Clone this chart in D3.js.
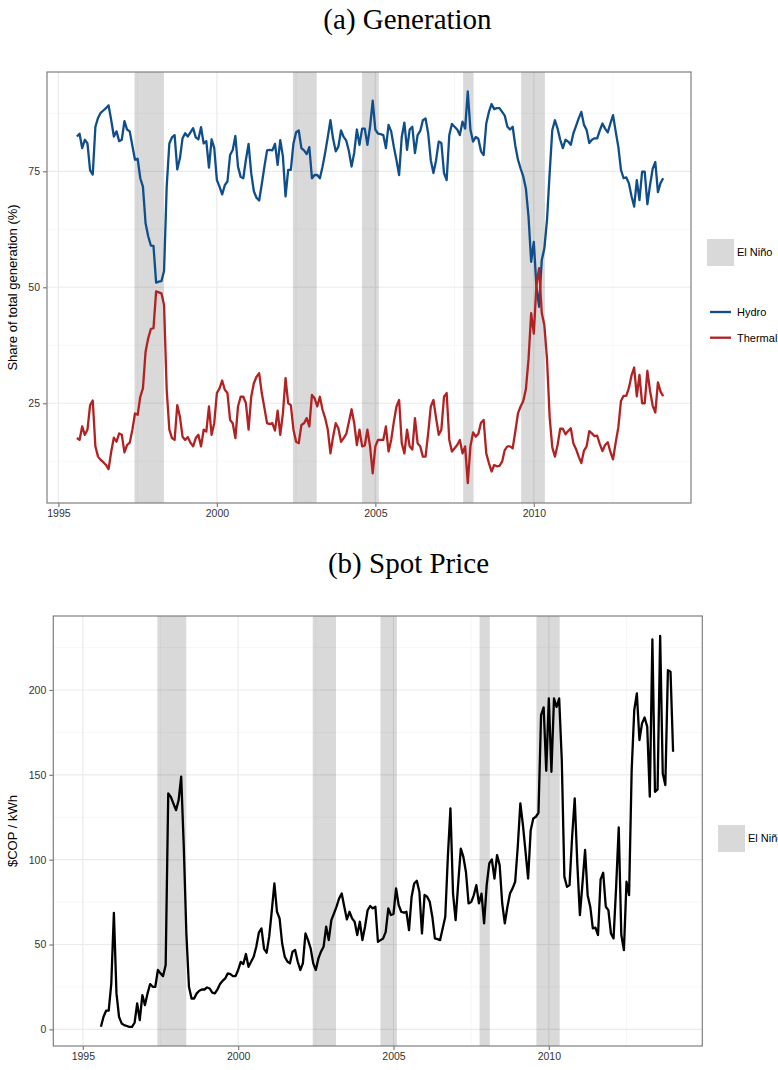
<!DOCTYPE html>
<html>
<head>
<meta charset="utf-8">
<script src="https://cdn.jsdelivr.net/npm/d3@7"></script>
<style>
  body { margin: 0; background: #fff; }
  text { font-family: "Liberation Sans", Arial, sans-serif; }
</style>
</head>
<body>
<div id="chart"></div>
<script>
const w = 778;
const h = 1070;

// monthly series, first value = August 1995
const firstMonth = 1995 + 7 / 12;

// El Niño episodes (decimal years)
const elNinoStart = [1997.40, 2002.40, 2004.58, 2007.77, 2009.60];
const elNinoEnd   = [1998.33, 2003.15, 2005.11, 2008.10, 2010.35];

// share of total generation (%)
const hydro = [
  82.5, 83.1, 80, 81.8, 81, 75.2, 74.3, 84.6, 86.5, 87.6, 88.1, 88.6, 89.2, 86, 82.5, 83.6,
  81.5, 81.8, 85.8, 84, 83.6, 80.5, 77.5, 77.7, 73.5, 71.7, 63.8, 61, 59, 58.9, 51, 51.2,
  51.3, 53.5, 71.7, 81, 82.3, 82.8, 75.4, 77.8, 82.1, 83.2, 82.5, 83.4, 84.3, 82.3, 81.9, 84.5,
  81, 81.5, 75.8, 81.9, 80, 73.1, 71.7, 70, 72, 72.8, 78.5, 79.6, 82.6, 76, 73.8, 73.5,
  77.5, 80.9, 74.6, 70.7, 69.3, 68.7, 72.2, 76, 79.5, 79.6, 79.5, 80.9, 76.4, 81.7, 78.2, 69.6,
  75.3, 75.3, 81, 83.4, 83.8, 80, 79.5, 78.7, 80.2, 73.5, 74.2, 74.2, 73.5, 76, 79, 82.4,
  86, 82, 79.3, 80.3, 83.8, 82.4, 81.6, 79.3, 76, 79, 84, 80.7, 84.2, 84.2, 80.7, 84.6,
  90.2, 84, 83.1, 83, 82.8, 80, 85, 83.6, 80.3, 77.4, 74.2, 82.4, 85.5, 79.6, 84, 84.6,
  78.9, 82.8, 83.7, 86, 86.4, 83.2, 77.4, 74.6, 77.4, 81.4, 81.1, 74.6, 73.1, 82.8, 85.2, 84.6,
  84, 82.8, 85.7, 84.2, 92.2, 84, 81.4, 82.4, 82, 79.3, 78.5, 85.3, 87.8, 89.5, 88.4, 88.6,
  88.6, 87.8, 87, 84.6, 84, 84.6, 80.5, 77.5, 75.6, 73.9, 71.3, 65.2, 55.5, 59.8, 50.1, 45.8,
  55.8, 58.4, 64.5, 74.6, 83.9, 86, 84.2, 81.8, 80, 81.8, 81.4, 80.7, 83.2, 84.8, 86.4, 87.8,
  85, 83.9, 81.1, 81.8, 82.1, 82.1, 83.8, 85.3, 84.2, 83.4, 85.3, 87.1, 83.6, 80.3, 75.3, 73.5,
  73.7, 72.4, 69.6, 67.4, 73.1, 68.8, 74.9, 74.9, 67.9, 72, 75.5, 77, 70.5, 72.5, 73.5
];
const thermal = [
  17.5, 17.1, 20, 18.2, 19.3, 24.6, 25.6, 15.7, 13.5, 12.8, 12.3, 11.7, 10.8, 14.6, 17.6, 16.7,
  18.5, 18.2, 14.4, 16, 16.5, 19.3, 22.8, 22.5, 26.4, 28.2, 36.1, 39, 41, 41.2, 49.1, 48.9,
  48.7, 46.2, 27.9, 19.3, 17.5, 17.1, 24.6, 22.1, 17.8, 17.1, 17.7, 16.5, 15.7, 17.5, 18.2, 15.7,
  19.3, 18.9, 24.3, 18.2, 20.7, 27.2, 28.2, 29.9, 27.9, 27.2, 21.4, 20.7, 17.5, 24.3, 26.4, 26.4,
  25, 19.3, 26.4, 29.3, 30.7, 31.5, 27.2, 24, 20.7, 20.5, 20.7, 19.1, 23.4, 18.2, 22.8, 30.4,
  25, 24.6, 19.3, 16.7, 16.4, 20.3, 20.7, 21.8, 20, 26.8, 26.1, 24.3, 26.4, 23.6, 21.8, 19.3,
  14.2, 17.8, 20.7, 19.6, 16.7, 17.5, 18.4, 21, 23.7, 20.7, 16, 19.3, 15.7, 15.9, 19.3, 15.7,
  9.9, 15.7, 17.1, 17.1, 17.1, 20, 14.6, 17.1, 21, 24.3, 25.7, 16.4, 14.2, 19.3, 15.7, 15,
  21.8, 16.4, 15.7, 13.5, 13.5, 18.5, 24.3, 25.7, 21.8, 18.2, 19.3, 26.4, 27.2, 17.1, 14.6, 15.3,
  16, 17.1, 14.2, 15.7, 7.8, 15.7, 18.7, 17.8, 18.4, 20.8, 21.4, 14.2, 12.1, 10.3, 11.7, 11.4,
  11.5, 12.4, 14.9, 15.7, 15.7, 15.3, 18.9, 22.8, 24.3, 25.5, 28, 34.5, 44.4, 40, 50.5, 54.1,
  44.5, 41.8, 34.5, 22, 15.5, 13.5, 16, 19.5, 19.5, 18.3, 19, 19.6, 16.3, 15.1, 13.5, 12.1,
  14.8, 15.7, 19, 18.5, 17.9, 18, 16.2, 14.7, 16, 16.6, 14.5, 12.9, 16.5, 19.8, 25.5, 26.6,
  26.6, 28.3, 31, 32.7, 26.5, 31.1, 25, 25, 32, 27.7, 24.5, 23, 29.5, 27.5, 26.5
];

// spot price ($COP / kWh)
const price = [
  1.5, 7.4, 11, 11, 27, 68.7, 21.2, 7.4, 3.5, 2.5, 2, 1.5, 1.5, 3.9, 15.3, 5.5,
  20.2, 14.3, 21.2, 26.7, 25.1, 25.1, 35, 33, 31.4, 37.9, 139, 137, 133, 129.2, 135, 148.9,
  107.6, 56.5, 25.1, 18.2, 18.2, 21.2, 22.8, 23.5, 23.5, 24.7, 24.1, 21.6, 21.2, 23.5, 26.7, 28.6,
  30, 33, 32.6, 31.4, 31.4, 35, 39.8, 38.5, 44.4, 36.9, 39.8, 42.8, 48.7, 57, 59.5, 47.5,
  45.2, 54.8, 70, 86, 69.3, 65.4, 50.6, 42.8, 40, 38.9, 45.8, 46.8, 40, 35, 38.9, 56.5,
  52.6, 47.7, 38.9, 35, 41.8, 45.8, 48.7, 60.5, 52.6, 64.4, 68.3, 72.3, 77.2, 80.1, 72.3, 64.8,
  69.3, 65.4, 63.4, 55.6, 63.4, 52.6, 60.5, 70.2, 72.7, 71.3, 72.3, 51.6, 52.6, 53.6, 57.5, 71.3,
  67.4, 68, 83.1, 73.3, 69.3, 68.8, 69.3, 58.5, 78.2, 86, 87.6, 81.1, 56.5, 79.2, 78.2, 75.2,
  66.4, 53.6, 53.2, 52.6, 59.5, 66.4, 101.8, 130.2, 80, 64.4, 86, 106.5, 101.6, 92.6, 74.2, 75,
  79, 85, 74.2, 80, 62.5, 85, 97.8, 100.1, 88.9, 102.7, 96.8, 74.2, 62.5, 72.2, 80.1, 83.1,
  87, 107.6, 133.2, 120.4, 104.7, 88.9, 117.4, 124.3, 125.3, 127.6, 185.2, 189.7, 152.4, 195, 151.8, 195,
  190.1, 195, 158.7, 90, 84, 85, 113.5, 136.1, 97.8, 67.3, 86, 105.7, 79.1, 72.3, 59.5, 59.9,
  55.6, 88.4, 92.3, 72.3, 70.3, 56.5, 53.6, 84, 119, 55.6, 46.7, 87, 79.1, 152.8, 188.2, 198,
  170.5, 180.3, 183.8, 178.4, 137.1, 229.8, 140, 141.4, 231.8, 150.8, 144, 211.7, 210.8, 163.6
];

const yearTicks = [1995, 2000, 2005, 2010];
const yearMinor = [1997.5, 2002.5, 2007.5, 2012.5];
const genTicks = [25, 50, 75];
const genMinor = [12.5, 37.5, 62.5, 87.5];
const priceTicks = [0, 50, 100, 150, 200];
const priceMinor = [25, 75, 125, 175, 225];

const seriesColor = { Hydro: '#104E8B', Thermal: '#B22222' };

const svg = d3.select('#chart')
  .append('svg')
  .attr('width', w)
  .attr('height', h);

const toPoints = arr => arr.map((v, i) => ({ t: firstMonth + i / 12, v: v }));
const elNino = elNinoStart.map((s, i) => ({ s: s, e: elNinoEnd[i] }));

function drawPanel(p) {
  const x = d3.scaleLinear().domain(p.xDomain).range([p.left, p.right]);
  const y = d3.scaleLinear().domain(p.yDomain).range([p.bottom, p.top]);
  const g = svg.append('g');

  // title
  svg.append('text')
    .attr('x', p.titleX)
    .attr('y', p.titleY)
    .attr('text-anchor', 'middle')
    .style('font-family', '"Liberation Serif", "Times New Roman", serif')
    .style('font-size', '29px')
    .style('fill', '#000')
    .text(p.title);

  // grid
  g.selectAll('.xminor').data(yearMinor).enter().append('line')
    .attr('x1', d => x(d)).attr('x2', d => x(d))
    .attr('y1', p.top).attr('y2', p.bottom)
    .style('stroke', '#f7f7f7').style('stroke-width', 1);
  g.selectAll('.yminor').data(p.yMinor).enter().append('line')
    .attr('x1', p.left).attr('x2', p.right)
    .attr('y1', d => y(d)).attr('y2', d => y(d))
    .style('stroke', '#f7f7f7').style('stroke-width', 1);
  g.selectAll('.xmajor').data(yearTicks).enter().append('line')
    .attr('x1', d => x(d)).attr('x2', d => x(d))
    .attr('y1', p.top).attr('y2', p.bottom)
    .style('stroke', '#ebebeb').style('stroke-width', 1.2);
  g.selectAll('.ymajor').data(p.yTicks).enter().append('line')
    .attr('x1', p.left).attr('x2', p.right)
    .attr('y1', d => y(d)).attr('y2', d => y(d))
    .style('stroke', '#ebebeb').style('stroke-width', 1.2);

  // El Niño shading
  g.selectAll('.nino').data(elNino).enter().append('rect')
    .attr('x', d => x(d.s))
    .attr('width', d => x(d.e) - x(d.s))
    .attr('y', p.top)
    .attr('height', p.bottom - p.top)
    .style('fill', '#000')
    .style('fill-opacity', 0.15);

  // lines
  const line = d3.line().x(d => x(d.t)).y(d => y(d.v));
  p.series.forEach(s => {
    g.append('path')
      .datum(toPoints(s.values))
      .attr('d', line)
      .style('fill', 'none')
      .style('stroke', s.color)
      .style('stroke-width', 2.3)
      .style('stroke-linejoin', 'round');
  });

  // border
  g.append('rect')
    .attr('x', p.left).attr('y', p.top)
    .attr('width', p.right - p.left).attr('height', p.bottom - p.top)
    .style('fill', 'none').style('stroke', '#7f7f7f').style('stroke-width', 1.2);

  // axes
  const xAxis = svg.append('g')
    .attr('transform', 'translate(0,' + p.bottom + ')')
    .call(d3.axisBottom(x).tickValues(yearTicks).tickFormat(d3.format('d')).tickSize(4).tickPadding(3));
  const yAxis = svg.append('g')
    .attr('transform', 'translate(' + p.left + ',0)')
    .call(d3.axisLeft(y).tickValues(p.yTicks).tickSize(4).tickPadding(3));
  [xAxis, yAxis].forEach(a => {
    a.select('.domain').remove();
    a.selectAll('line').style('stroke', '#7f7f7f').style('stroke-width', 1.2);
    a.selectAll('text')
      .style('font-family', '"Liberation Sans", Arial, sans-serif')
      .style('font-size', '10.5px')
      .style('fill', '#333');
  });

  // y label
  svg.append('text')
    .attr('transform', 'rotate(-90)')
    .attr('x', -(p.top + p.bottom) / 2)
    .attr('y', 17)
    .attr('text-anchor', 'middle')
    .style('font-size', '13px')
    .style('fill', '#000')
    .text(p.yLabel);

  return { x: x, y: y };
}

// (a) generation
drawPanel({
  left: 47, right: 691, top: 72, bottom: 503,
  xDomain: [1994.64, 2014.96], yDomain: [3.5, 96.4],
  yTicks: genTicks, yMinor: genMinor,
  title: '(a) Generation', titleX: 407.5, titleY: 29,
  yLabel: 'Share of total generation (%)',
  series: [
    { values: hydro, color: seriesColor.Hydro },
    { values: thermal, color: seriesColor.Thermal }
  ]
});

// (b) spot price
drawPanel({
  left: 53.3, right: 702.3, top: 616, bottom: 1046,
  xDomain: [1994.05, 2014.94], yDomain: [-9.8, 243.6],
  yTicks: priceTicks, yMinor: priceMinor,
  title: '(b) Spot Price', titleX: 408.5, titleY: 573,
  yLabel: '$COP / kWh',
  series: [{ values: price, color: '#000' }]
});

// legend, top panel
const legA = svg.append('g').attr('transform', 'translate(707,239)');
legA.append('rect').attr('width', 27).attr('height', 27).style('fill', '#d9d9d9');
legA.append('text').attr('x', 30).attr('y', 13.5).attr('dy', '0.35em')
  .style('font-size', '11px').text('El Niño');

const legLines = legA.selectAll('.key')
  .data(['Hydro', 'Thermal'])
  .enter()
  .append('g')
  .attr('transform', (d, i) => 'translate(0,' + (73 + i * 25.7) + ')');
legLines.append('line')
  .attr('x1', 3).attr('x2', 24)
  .style('stroke', d => seriesColor[d])
  .style('stroke-width', 2.3);
legLines.append('text')
  .attr('x', 30).attr('dy', '0.35em')
  .style('font-size', '11px')
  .text(d => d);

// legend, bottom panel (runs off the page edge as in the original figure)
const legB = svg.append('g').attr('transform', 'translate(718,825)');
legB.append('rect').attr('width', 27).attr('height', 27).style('fill', '#d9d9d9');
legB.append('text').attr('x', 30).attr('y', 13.5).attr('dy', '0.35em')
  .style('font-size', '11px').text('El Niño');
</script>
</body>
</html>
